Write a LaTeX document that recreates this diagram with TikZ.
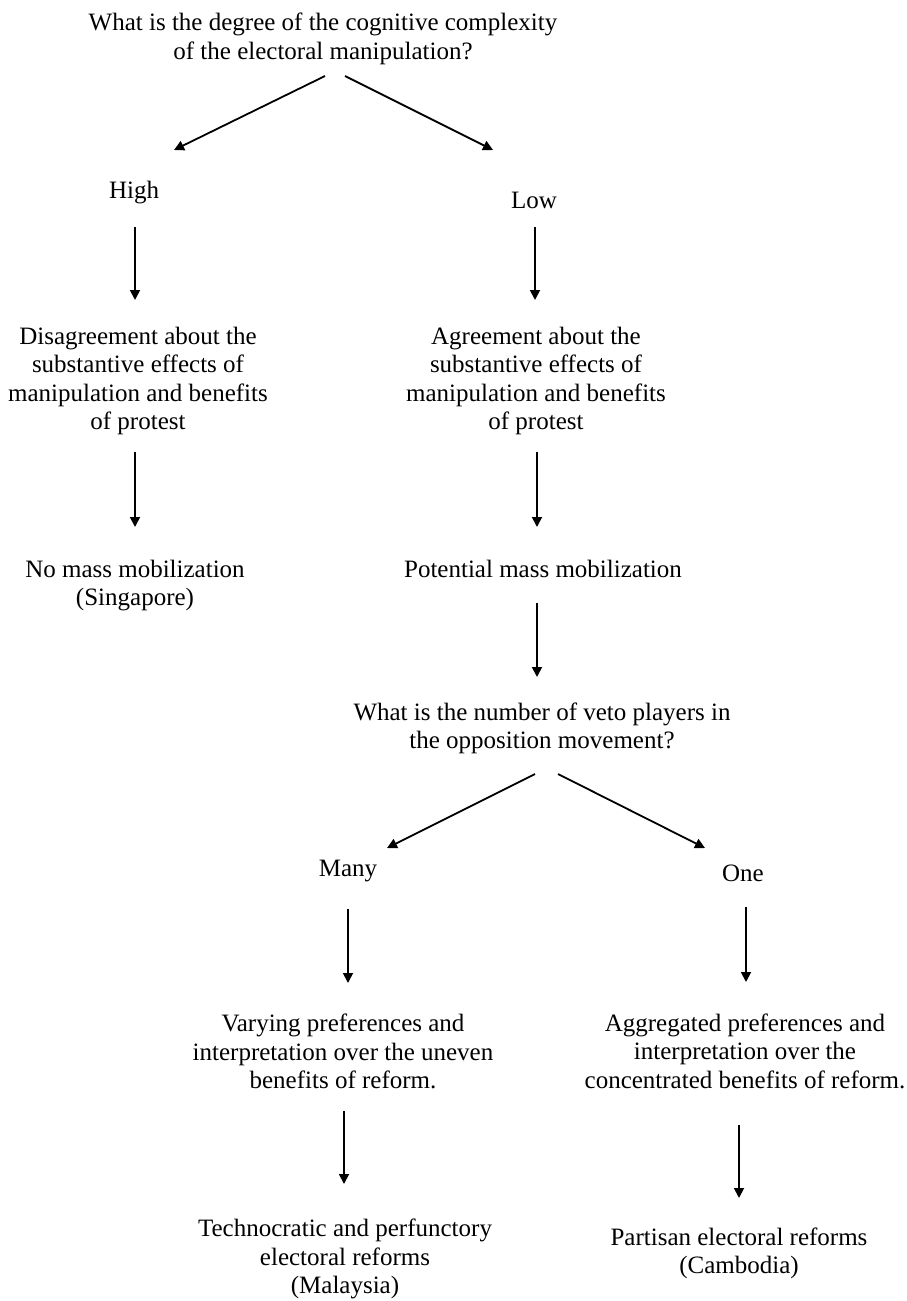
\documentclass[tikz,border=0pt]{standalone}
\usepackage{fontspec}
\setmainfont{Liberation Serif}
\usetikzlibrary{arrows.meta,calc}
\begin{document}
\begin{tikzpicture}[x=1pt,y=-1pt,
  lbl/.style={align=center,inner sep=0pt,font=\fontsize{25}{28.5}\selectfont},
  arr/.style={line width=1.8pt,-{Triangle[width=10pt,length=10pt]}}]
\useasboundingbox[fill=white] (0,0) rectangle (907,1301);
% nodes
\node[lbl] (q1) at (323,39) {What is the degree of the cognitive complexity\\of the electoral manipulation?};
\node[lbl] (high) at (134,193) {High};
\node[lbl] (low) at (534,200) {Low};
\node[lbl] (dis) at (138,381) {Disagreement about the\\substantive effects of\\manipulation and benefits\\of protest};
\node[lbl] (agr) at (536,381) {Agreement about the\\substantive effects of\\manipulation and benefits\\of protest};
\node[lbl] (nomass) at (135,585.5) {No mass mobilization\\(Singapore)};
\node[lbl] (pot) at (543,569) {Potential mass mobilization};
\node[lbl] (q2) at (542,728.5) {What is the number of veto players in\\the opposition movement?};
\node[lbl] (many) at (348,871) {Many};
\node[lbl] (one) at (743,873) {One};
\node[lbl] (var) at (343,1051.5) {Varying preferences and\\interpretation over the uneven\\benefits of reform.};
\node[lbl] (agg) at (745,1051) {Aggregated preferences and\\interpretation over the\\concentrated benefits of reform.};
\node[lbl] (tech) at (345,1259) {Technocratic and perfunctory\\electoral reforms\\(Malaysia)};
\node[lbl] (part) at (739,1253.5) {Partisan electoral reforms\\(Cambodia)};
% connectors
\draw[arr] ($(q1)+(2,37)$) -- ($(high)+(40,-43)$);
\draw[arr] ($(q1)+(22,37)$) -- ($(low)+(-41,-50)$);
\draw[arr] ($(high)+(1,34)$) -- ($(dis)+(-3,-81)$);
\draw[arr] ($(low)+(1,27)$) -- ($(agr)+(-1,-81)$);
\draw[arr] ($(dis)+(-3,71)$) -- ($(nomass)+(0,-58.5)$);
\draw[arr] ($(agr)+(1,71)$) -- ($(pot)+(-6,-42)$);
\draw[arr] ($(pot)+(-6,34)$) -- ($(q2)+(-5,-51.5)$);
\draw[arr] ($(q2)+(-7,45.5)$) -- ($(many)+(39,-23)$);
\draw[arr] ($(q2)+(16,45.5)$) -- ($(one)+(-38,-25)$);
\draw[arr] ($(many)+(0,38)$) -- ($(var)+(5,-68.5)$);
\draw[arr] ($(one)+(3,34)$) -- ($(agg)+(1,-69)$);
\draw[arr] ($(var)+(1,59.5)$) -- ($(tech)+(-1,-75)$);
\draw[arr] ($(agg)+(-6,74)$) -- ($(part)+(0,-55.5)$);
\end{tikzpicture}
\end{document}
